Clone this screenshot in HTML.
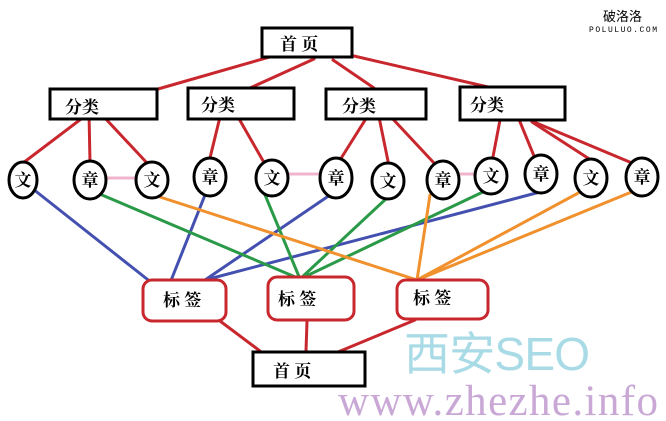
<!DOCTYPE html>
<html><head><meta charset="utf-8"><style>
html,body{margin:0;padding:0;background:#fff;}
svg{display:block;}
.t{font-family:"Liberation Serif","Noto Serif CJK SC",serif;font-weight:bold;font-size:17px;fill:#000;}
</style></head><body>
<svg width="666" height="421" viewBox="0 0 666 421" xmlns="http://www.w3.org/2000/svg">
<rect width="666" height="421" fill="#fff"/>
<text x="603" y="21" font-family="Noto Sans CJK SC,sans-serif" font-size="13" fill="#000">破洛洛</text>
<text x="589" y="32" font-family="Liberation Mono,monospace" font-size="8" fill="#000" textLength="68">POLULUO.COM</text>
<text x="404" y="370" font-family="Liberation Sans,Noto Sans CJK SC,sans-serif" font-size="46" fill="#a8dbe6" textLength="186">西安SEO</text>
<text x="338" y="415" font-family="Liberation Serif,serif" font-size="43" fill="#c9a8d6" textLength="320">www.zhezhe.info</text>
<g stroke-width="3" fill="none" stroke-linecap="round">
<g stroke="#c8272e">
<line x1="280" y1="54" x2="158" y2="89"/>
<line x1="314" y1="59" x2="250" y2="88"/>
<line x1="333" y1="60" x2="374" y2="88"/>
<line x1="354" y1="56" x2="488" y2="87"/>
<line x1="89" y1="113" x2="23" y2="163"/>
<line x1="89" y1="113" x2="90" y2="162"/>
<line x1="104" y1="117" x2="147" y2="163"/>
<line x1="220" y1="117" x2="209" y2="162"/>
<line x1="238" y1="117" x2="266" y2="166"/>
<line x1="367" y1="117" x2="340" y2="160"/>
<line x1="379" y1="117" x2="389" y2="166"/>
<line x1="391" y1="117" x2="434" y2="163"/>
<line x1="500" y1="120" x2="492" y2="162"/>
<line x1="518" y1="117" x2="534" y2="156"/>
<line x1="532" y1="122" x2="594" y2="162"/>
<line x1="534" y1="122" x2="632" y2="163"/>
<line x1="220" y1="321" x2="260" y2="351"/>
<line x1="307" y1="321" x2="306" y2="351"/>
<line x1="415" y1="320" x2="338" y2="352"/>
</g>
<g stroke="#f0b4cc">
<line x1="104" y1="178" x2="136" y2="178"/>
<line x1="289" y1="174" x2="321" y2="174"/>
<line x1="460" y1="174" x2="477" y2="174"/>
</g>
<g stroke="#4450b0">
<line x1="33" y1="189" x2="152" y2="283"/>
<line x1="205" y1="195" x2="170" y2="283"/>
<line x1="330" y1="195" x2="205" y2="280"/>
<line x1="540" y1="192" x2="205" y2="280"/>
</g>
<g stroke="#2a9a48">
<line x1="102" y1="195" x2="300" y2="279"/>
<line x1="263" y1="190" x2="300" y2="279"/>
<line x1="388" y1="197" x2="300" y2="279"/>
<line x1="487" y1="190" x2="300" y2="279"/>
</g>
<g stroke="#f0912e">
<line x1="160" y1="197" x2="417" y2="280"/>
<line x1="430" y1="195" x2="417" y2="280"/>
<line x1="582" y1="191" x2="417" y2="280"/>
<line x1="634" y1="191" x2="417" y2="280"/>
</g>
</g>
<g fill="#fff" stroke="#000" stroke-width="3">
<rect x="262" y="28" width="90" height="29"/>
<rect x="50" y="89" width="107" height="30"/>
<rect x="188" y="88" width="106" height="31"/>
<rect x="326" y="89" width="100" height="30"/>
<rect x="460" y="87" width="105" height="33"/>
<rect x="253" y="352" width="112" height="34"/>
</g>
<g fill="#fff" stroke="#c8272e" stroke-width="3">
<rect x="143" y="280" width="83" height="41" rx="9"/>
<rect x="268" y="277" width="86" height="43" rx="9"/>
<rect x="397" y="280" width="91" height="39" rx="9"/>
</g>
<g class="t">
<text x="280" y="50">首 页</text>
<text x="65" y="113">分类</text>
<text x="201" y="111">分类</text>
<text x="342" y="112">分类</text>
<text x="470" y="111">分类</text>
<text x="273" y="377">首 页</text>
<text x="163" y="306">标 签</text>
<text x="278" y="305">标 签</text>
<text x="413" y="304">标 签</text>
</g>
<g fill="#fff" stroke="#000" stroke-width="3">
<ellipse cx="23" cy="180" rx="14" ry="18"/>
<ellipse cx="90" cy="180" rx="16" ry="19"/>
<ellipse cx="152" cy="180" rx="16" ry="18"/>
<ellipse cx="210" cy="177" rx="16" ry="19"/>
<ellipse cx="272" cy="178" rx="16" ry="18"/>
<ellipse cx="336" cy="178" rx="16" ry="20"/>
<ellipse cx="388" cy="181" rx="16" ry="18"/>
<ellipse cx="443" cy="180" rx="16" ry="19"/>
<ellipse cx="491" cy="176" rx="16" ry="18"/>
<ellipse cx="541" cy="174" rx="16" ry="19"/>
<ellipse cx="591" cy="178" rx="16" ry="19"/>
<ellipse cx="642" cy="177" rx="16" ry="19"/>
</g>
<g class="t" text-anchor="middle" font-size="17">
<text x="23" y="186">文</text>
<text x="90" y="186">章</text>
<text x="152" y="186">文</text>
<text x="210" y="183">章</text>
<text x="272" y="184">文</text>
<text x="336" y="184">章</text>
<text x="388" y="187">文</text>
<text x="443" y="186">章</text>
<text x="491" y="182">文</text>
<text x="541" y="180">章</text>
<text x="591" y="184">文</text>
<text x="642" y="183">章</text>
</g>
</svg>
</body></html>
